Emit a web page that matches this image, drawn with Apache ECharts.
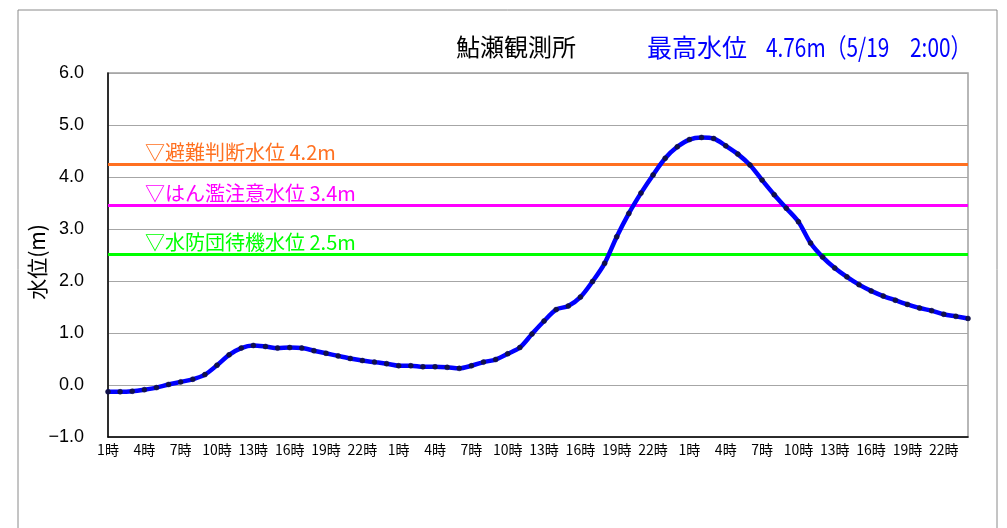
<!DOCTYPE html>
<html>
<head>
<meta charset="utf-8">
<script src="https://cdn.jsdelivr.net/npm/echarts@6/dist/echarts.min.js"></script>
<style>
html,body{margin:0;padding:0;background:#fff;}
#c{width:1007px;height:528px;}
</style>
</head>
<body>
<div id="c"></div>
<script>
const categories = [
 "1時","2時","3時","4時","5時","6時","7時","8時","9時","10時","11時","12時",
 "13時","14時","15時","16時","17時","18時","19時","20時","21時","22時","23時","24時",
 "1時","2時","3時","4時","5時","6時","7時","8時","9時","10時","11時","12時",
 "13時","14時","15時","16時","17時","18時","19時","20時","21時","22時","23時","24時",
 "1時","2時","3時","4時","5時","6時","7時","8時","9時","10時","11時","12時",
 "13時","14時","15時","16時","17時","18時","19時","20時","21時","22時","23時","24時"
];
const waterLevel = [
 -0.13,-0.13,-0.12,-0.09,-0.05,0.01,0.06,0.11,0.20,0.38,0.58,0.71,
 0.76,0.74,0.71,0.72,0.71,0.66,0.61,0.56,0.51,0.47,0.44,0.41,
 0.37,0.37,0.35,0.35,0.34,0.32,0.37,0.44,0.49,0.60,0.72,0.98,
 1.23,1.45,1.52,1.69,1.99,2.34,2.85,3.30,3.69,4.04,4.36,4.58,
 4.72,4.76,4.74,4.60,4.44,4.23,3.94,3.66,3.40,3.14,2.73,2.46,
 2.25,2.08,1.93,1.81,1.71,1.63,1.55,1.48,1.43,1.36,1.32,1.28
];
const thresholdLabels = ["▽避難判断水位 4.2m","▽はん濫注意水位 3.4m","▽水防団待機水位 2.5m"];
const thresholdValues = [4.25, 3.45, 2.52];
const thresholdColors = ["#ff7020", "#ff00ff", "#00ff00"];
const titleText = "鮎瀬観測所";
const maxLabel = "最高水位";
const maxValueText = "4.76m（5/19　2:00）";
const yAxisName = "水位(m)";

const FONT = "'Noto Sans CJK JP', 'Noto Sans', sans-serif";
const chart = echarts.init(document.getElementById('c'), null, {renderer: 'canvas'});

const markData = thresholdValues.map((v, i) => ({
  yAxis: v,
  lineStyle: {color: thresholdColors[i], width: 3, type: 'solid'},
  label: {
    show: true,
    formatter: thresholdLabels[i],
    position: 'insideStartTop',
    distance: [37, 2],
    color: thresholdColors[i],
    fontSize: 20,
    fontFamily: FONT
  }
}));

chart.setOption({
  animation: false,
  backgroundColor: '#fff',
  grid: {left: 108, top: 73, right: 39, bottom: 91, show: true, borderColor: '#a0a0a0', borderWidth: 1.5},
  graphic: [
    {type: 'rect', shape: {x: 18, y: 10, width: 979, height: 540}, style: {fill: null, stroke: '#8a8a8a', lineWidth: 1}, z: -1},
    {type: 'text', x: 516, y: 47, style: {text: titleText, fill: '#000', font: '24px ' + FONT, textAlign: 'center', textVerticalAlign: 'middle'}},
    {type: 'text', x: 647, y: 47, style: {text: maxLabel, fill: '#0000ff', font: '25px ' + FONT, textAlign: 'left', textVerticalAlign: 'middle'}},
    {type: 'text', x: 766, y: 47, scaleX: 0.8, style: {text: maxValueText, fill: '#0000ff', font: '26px ' + FONT, textAlign: 'left', textVerticalAlign: 'middle'}},
    {type: 'text', x: 37, y: 262, rotation: Math.PI / 2, style: {text: yAxisName, fill: '#000', font: '21px ' + FONT, textAlign: 'center', textVerticalAlign: 'middle'}}
  ],
  xAxis: {
    type: 'category',
    data: categories,
    boundaryGap: false,
    axisLine: {onZero: false, lineStyle: {color: '#000', width: 1.5}},
    axisTick: {show: false},
    axisLabel: {interval: 2, color: '#000', fontSize: 14, fontFamily: FONT, margin: 6},
    splitLine: {show: false}
  },
  yAxis: {
    type: 'value',
    min: -1, max: 6, interval: 1,
    axisLine: {show: true, lineStyle: {color: '#000', width: 1.5}},
    axisTick: {show: false},
    axisLabel: {
      color: '#000', fontSize: 18, margin: 24,
      fontFamily: "'Liberation Sans Narrow', 'Liberation Sans', sans-serif",
      formatter: v => v.toFixed(1).replace('-', '−')
    },
    splitLine: {show: true, lineStyle: {color: '#a6a6a6', width: 1}}
  },
  series: [{
    type: 'line',
    data: waterLevel,
    smooth: 0.3,
    symbol: 'circle',
    symbolSize: 5,
    showSymbol: true,
    showAllSymbol: true,
    lineStyle: {color: '#0000ff', width: 4.5},
    itemStyle: {color: '#10104a', borderColor: '#10104a', borderWidth: 0.5, opacity: 1},
    emphasis: {disabled: true},
    z: 5,
    zlevel: 0,
    markLine: {
      silent: true,
      symbol: ['none', 'none'],
      animation: false,
      data: markData,
      z: 3
    }
  }]
});
</script>
</body>
</html>
